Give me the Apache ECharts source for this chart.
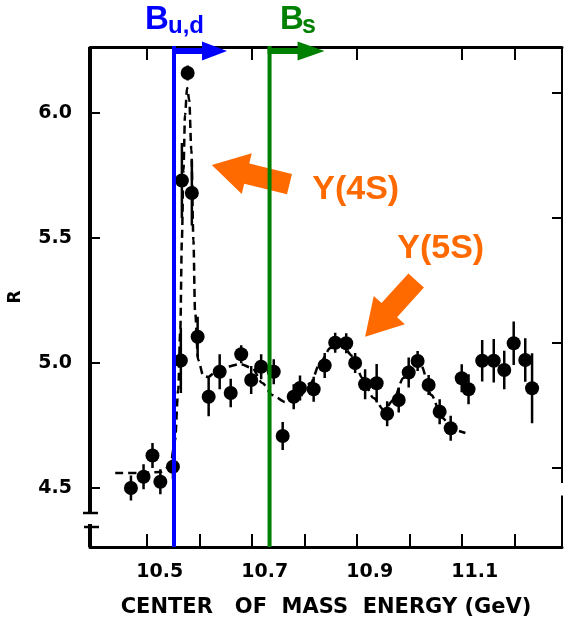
<!DOCTYPE html>
<html>
<head>
<meta charset="utf-8">
<script src="https://cdn.jsdelivr.net/npm/echarts@6/dist/echarts.min.js"></script>
<style>
  html, body { margin: 0; padding: 0; background: #fff; }
  #chart { width: 564px; height: 620px; }
</style>
</head>
<body>
<div id="chart"></div>
<script>
// measured points (GeV, R, error)
let energy = [10.469, 10.493, 10.510, 10.525, 10.549, 10.564, 10.566, 10.577, 10.585, 10.596,
  10.617, 10.638, 10.659, 10.679, 10.698, 10.717, 10.741, 10.758, 10.779, 10.791,
  10.817, 10.838, 10.858, 10.879, 10.896, 10.915, 10.937, 10.957, 10.979, 10.998,
  11.015, 11.036, 11.057, 11.078, 11.099, 11.112, 11.138, 11.160, 11.180, 11.198,
  11.220, 11.233];
let ratio = [4.50, 4.545, 4.63, 4.525, 4.585, 5.01, 5.73, 6.16, 5.68, 5.105,
  4.865, 4.965, 4.88, 5.035, 4.932, 4.985, 4.965, 4.708, 4.865, 4.90,
  4.895, 4.99, 5.081, 5.079, 5.00, 4.915, 4.919, 4.797, 4.852, 4.962,
  5.008, 4.912, 4.805, 4.739, 4.939, 4.895, 5.009, 5.009, 4.972, 5.079,
  5.012, 4.899];
let ratioErr = [0.05, 0.05, 0.05, 0.05, 0.05, 0.13, 0.15, 0.03, 0.13, 0.08,
  0.078, 0.07, 0.057, 0.036, 0.056, 0.05, 0.05, 0.056, 0.05, 0.05,
  0.05, 0.05, 0.04, 0.04, 0.04, 0.06, 0.077, 0.05, 0.05, 0.06,
  0.04, 0.04, 0.05, 0.05, 0.056, 0.06, 0.083, 0.087, 0.077, 0.087,
  0.087, 0.14];

// dashed fit curve
let fitEnergy = [10.439, 10.487, 10.525, 10.544, 10.553, 10.559, 10.563, 10.566, 10.569, 10.572,
  10.576, 10.580, 10.584, 10.588, 10.591, 10.597, 10.607, 10.616, 10.630, 10.649,
  10.677, 10.700, 10.719, 10.738, 10.763, 10.788, 10.811, 10.830, 10.849, 10.870,
  10.891, 10.910, 10.931, 10.951, 10.969, 10.988, 11.007, 11.022, 11.041, 11.062,
  11.083, 11.106];
let fitRatio = [4.56, 4.56, 4.564, 4.588, 4.692, 4.892, 5.132, 5.492, 5.772, 5.992,
  6.10, 6.052, 5.852, 5.492, 5.212, 5.012, 4.948, 4.944, 4.964, 4.984,
  4.996, 4.98, 4.92, 4.872, 4.844, 4.86, 4.92, 5.004, 5.06, 5.076,
  5.028, 4.94, 4.86, 4.812, 4.852, 4.94, 5.012, 4.988, 4.872, 4.78,
  4.732, 4.72];

let xTicks = [10.5, 10.6, 10.7, 10.8, 10.9, 11.0, 11.1, 11.2];
let xTopTicks = [10.5, 10.7, 10.9, 11.1, 11.2];
let xLabels = [10.5, 10.7, 10.9, 11.1];
let yTicks = [4.5, 5.0, 5.5, 6.0];

let bThreshold = 10.551;   // B u,d
let bsThreshold = 10.733;  // B s
let peak4S = [10.623, 5.792];
let peak5S = [10.915, 5.105];

let xMin = 10.391, xMax = 11.290;
let yMin = 4.264, yMax = 6.264;
let yBreak = [4.356, 4.40];

let chart = echarts.init(document.querySelector('#chart'));

let tickFont = {fontFamily: 'DejaVu Sans', fontWeight: 'bold', fontSize: 19, color: '#000'};

let option = {
  animation: false,
  backgroundColor: '#fff',
  grid: {left: 90, right: 2, top: 47, bottom: 73, outerBoundsMode: 'none'},
  xAxis: [{
    type: 'value', min: xMin, max: xMax, position: 'bottom',
    axisLine: {show: true, onZero: false, lineStyle: {color: '#000', width: 3}},
    axisTick: {show: true, inside: true, length: 13, customValues: xTicks, lineStyle: {color: '#000', width: 2}},
    axisLabel: Object.assign({customValues: xLabels, formatter: v => v.toFixed(1), margin: 16, padding: [0, 0, 0, 25]}, tickFont),
    splitLine: {show: false},
    name: 'CENTER   OF  MASS  ENERGY (GeV)', nameLocation: 'middle', nameGap: 50,
    nameTextStyle: {fontFamily: 'DejaVu Sans', fontWeight: 'bold', fontSize: 21, color: '#000'}
  }, {
    type: 'value', min: xMin, max: xMax, position: 'top',
    axisLine: {show: true, onZero: false, lineStyle: {color: '#000', width: 3}},
    axisTick: {show: true, inside: true, length: 13, customValues: xTopTicks, lineStyle: {color: '#000', width: 2}},
    axisLabel: {show: false},
    splitLine: {show: false}
  }],
  yAxis: [{
    type: 'value', min: yMin, max: yMax,
    axisLine: {show: false},
    axisTick: {show: true, inside: true, length: 10, customValues: yTicks, lineStyle: {color: '#000', width: 2}},
    axisLabel: Object.assign({customValues: yTicks, formatter: v => v.toFixed(1), margin: 18}, tickFont),
    splitLine: {show: false},
    name: 'R', nameLocation: 'middle', nameGap: 66,
    nameTextStyle: {fontFamily: 'DejaVu Sans', fontWeight: 'bold', fontSize: 17, color: '#000'}
  }, {
    // right frame is drawn a bit skewed in the scan
    type: 'value', position: 'right', min: yMin - 0.08, max: yMax - 0.08,
    axisLine: {show: false},
    axisTick: {show: true, inside: true, length: 10, customValues: yTicks, lineStyle: {color: '#000', width: 2}},
    axisLabel: {show: false},
    splitLine: {show: false}
  }],
  series: [{
    name: 'fit',
    type: 'line',
    data: fitEnergy.map((e, i) => [e, fitRatio[i]]),
    showSymbol: false,
    smooth: 0.3,
    smoothMonotone: 'x',
    lineStyle: {color: '#000', width: 2.5, type: [8, 5]},
    z: 2
  }, {
    name: 'errors',
    type: 'custom',
    data: energy.map((e, i) => [e, ratio[i], ratioErr[i]]),
    renderItem: (params, api) => {
      let x = api.value(0), y = api.value(1), err = api.value(2);
      let hi = api.coord([x, y + err]);
      let lo = api.coord([x, y - err]);
      return {
        type: 'line',
        shape: {x1: hi[0], y1: hi[1], x2: lo[0], y2: lo[1]},
        style: {stroke: '#000', lineWidth: 2.5}
      };
    },
    z: 3
  }, {
    name: 'R',
    type: 'scatter',
    data: energy.map((e, i) => [e, ratio[i]]),
    symbol: 'circle',
    symbolSize: 14,
    itemStyle: {color: '#000', opacity: 1},
    z: 4
  }]
};

chart.setOption(option);

function px(e, r) {
  return chart.convertToPixel({seriesIndex: 2}, [e, r]);
}

let graphics = [];

function addLine(p1, p2, color, width, z) {
  graphics.push({
    type: 'line', silent: true, z: z || 100,
    shape: {x1: p1[0], y1: p1[1], x2: p2[0], y2: p2[1]},
    style: {stroke: color, lineWidth: width}
  });
}

function addText(text, x, y, size, color, family) {
  graphics.push({
    type: 'text', silent: true, z: 100, x: x, y: y,
    style: {text: text, fill: color, fontSize: size, fontWeight: 'bold',
      fontFamily: family || 'Liberation Sans', align: 'left', verticalAlign: 'middle'}
  });
}

// left frame with axis break
let lTop = px(xMin, yMax), lHi = px(xMin, yBreak[1]), lLo = px(xMin, yBreak[0]), lBot = px(xMin, yMin);
addLine(lTop, lHi, '#000', 4, 5);
addLine([lHi[0] - 7, lHi[1]], [lHi[0] + 8, lHi[1]], '#000', 2.5, 5);
addLine(lLo, lBot, '#000', 4, 5);
addLine([lLo[0] - 6, lLo[1] + 3], [lLo[0] + 9, lLo[1] + 3], '#000', 2.5, 5);

// right frame
let rTop = px(xMax, yMax), rHi = px(xMax, 4.52), rLo = px(xMax, 4.47), rBot = px(xMax, yMin);
addLine(rTop, rHi, '#000', 2, 5);
addLine(rLo, rBot, '#000', 2, 5);

// threshold lines with arrows
function threshold(e, color, headStart, headEnd) {
  let top = px(e, yMax), bot = px(e, yMin);
  let x = top[0], y = top[1] + 4;
  addLine([x, top[1] - 1], bot, color, 4);
  graphics.push({type: 'rect', silent: true, z: 100,
    shape: {x: x - 2, y: y - 3, width: headStart + 3, height: 6}, style: {fill: color}});
  graphics.push({type: 'polygon', silent: true, z: 100,
    shape: {points: [[x + headStart, y - 9.5], [x + headEnd, y], [x + headStart, y + 9.5]]}, style: {fill: color}});
  return top;
}

let bTop = threshold(bThreshold, '#0000ff', 28, 53);
addText('B', bTop[0] - 29, bTop[1] - 27.5, 33, '#0000ff');
addText('u,d', bTop[0] - 6, bTop[1] - 21, 24, '#0000ff');

let sTop = threshold(bsThreshold, '#008000', 28, 55);
addText('B', sTop[0] + 10.5, sTop[1] - 27.5, 33, '#008000');
addText('s', sTop[0] + 32.5, sTop[1] - 20.5, 25, '#008000');

// orange arrows
function fatArrow(tip, angleDeg, len) {
  let t = px(tip[0], tip[1]);
  let a = angleDeg * Math.PI / 180;
  let d = [Math.cos(a), Math.sin(a)], n = [-Math.sin(a), Math.cos(a)];
  let hl = 36, hw = 21, sw = 10.5;
  let P = (s, w) => [t[0] + d[0] * s + n[0] * w, t[1] + d[1] * s + n[1] * w];
  graphics.push({type: 'polygon', silent: true, z: 90,
    shape: {points: [P(0, 0), P(hl, hw), P(hl, sw), P(len, sw), P(len, -sw), P(hl, -sw), P(hl, -hw)]},
    style: {fill: '#ff6a00'}});
}

fatArrow(peak4S, 13.8, 80);
fatArrow(peak5S, -47.8, 76);

let t4 = px(10.8143, 5.692);
addText('Y(4S)', t4[0], t4[1], 34, '#ff6a00');
let t5 = px(10.9762, 5.456);
addText('Y(5S)', t5[0], t5[1], 34, '#ff6a00');

chart.setOption({graphic: graphics});
</script>
</body>
</html>
